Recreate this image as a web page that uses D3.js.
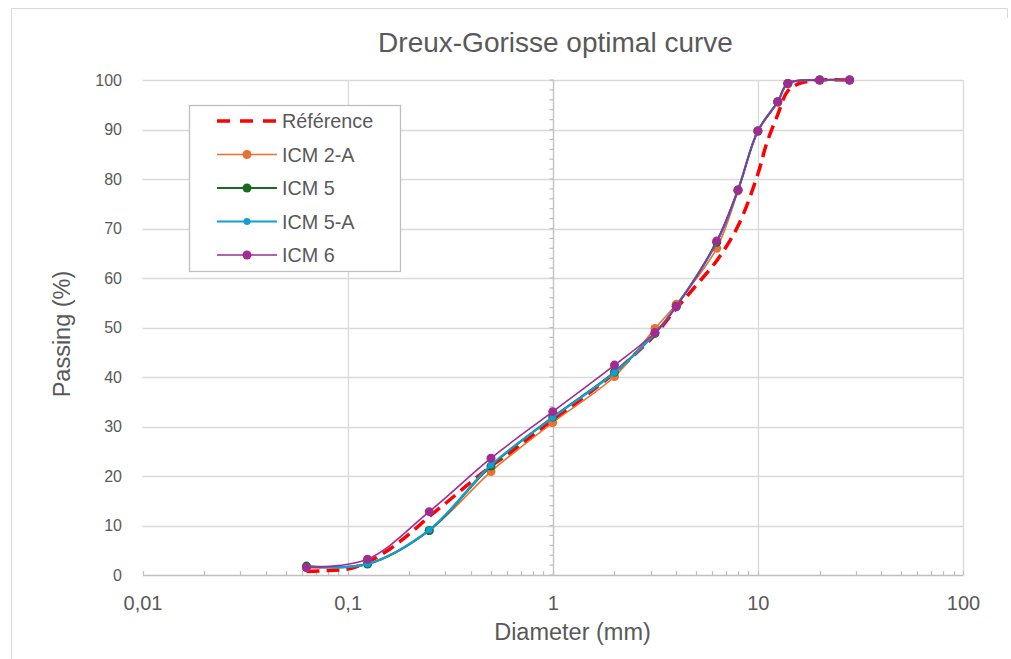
<!DOCTYPE html>
<html><head><meta charset="utf-8">
<script src="https://cdn.jsdelivr.net/npm/d3@7"></script>
<style>html,body{margin:0;padding:0;background:#fff;}svg{display:block;font-family:"Liberation Sans",Arial,sans-serif;}</style>
</head><body>
<script>
// ---- data ----
const title = "Dreux-Gorisse optimal curve";
const xTitle = "Diameter (mm)";
const yTitle = "Passing (%)";
const xTickValues = [0.01, 0.1, 1, 10, 100];
const xTickLabels = ["0,01", "0,1", "1", "10", "100"];
const yTickValues = [0, 10, 20, 30, 40, 50, 60, 70, 80, 90, 100];

const sieves = [0.063, 0.125, 0.25, 0.5, 1, 2, 3.15, 4, 6.3, 8, 10, 12.5, 14, 20, 28];
const icm2A = [1.5, 2.3, 9.0, 20.9, 30.8, 40.1, 49.8, 54.7, 66.0, 77.6, 89.7, 95.5, 99.3, 100, 100];
const icm5  = [1.8, 2.2, 9.0, 22.0, 31.9, 41.0, 48.8, 54.3, 67.2, 77.8, 89.7, 95.6, 99.3, 100, 100];
const icm5A = [1.7, 2.2, 9.1, 22.2, 31.8, 40.9, 48.8, 54.3, 67.3, 77.8, 89.7, 95.6, 99.3, 100, 100];
const icm6  = [1.5, 3.2, 12.8, 23.6, 33.0, 42.4, 49.0, 54.2, 67.5, 77.8, 89.7, 95.6, 99.3, 100, 100];

const refSizes  = [0.063, 0.08, 0.1, 0.125, 0.16, 0.2, 0.25, 0.315, 0.4, 0.5, 0.63, 0.8, 1, 1.25, 1.6, 2, 2.5, 3.15, 4, 5, 6.3, 8, 10, 11, 12.5, 14, 16, 20, 28];
const refValues = [0.7, 0.9, 1.2, 2.6, 5.2, 8.3, 11.8, 15.2, 18.8, 22.0, 24.9, 28.2, 31.3, 34.2, 37.6, 40.8, 44.5, 48.5, 53.8, 58.5, 63.5, 70.5, 81.0, 87.0, 93.0, 97.8, 99.3, 100, 100];

const seriesNames = ["Référence", "ICM 2-A", "ICM 5", "ICM 5-A", "ICM 6"];
const seriesColors = ["#FF0000", "#E97132", "#196B24", "#0F9ED5", "#A02B93"];

// ---- chart ----
const W = 1011, H = 659;
const svg = d3.select("body").append("svg").attr("width", W).attr("height", H);
const txt = "#595959", grid = "#d9d9d9", axisC = "#bfbfbf";

// outer frame
svg.append("path").attr("d", "M11.5,659 V8.5 H1007.5 V18").attr("fill", "none").attr("stroke", grid).attr("stroke-width", 1);

const x = d3.scaleLog().domain([0.01, 100]).range([142.5, 963]);
const y = d3.scaleLinear().domain([0, 100]).range([575, 80]);

// horizontal gridlines
svg.append("g").selectAll("line").data(yTickValues.filter(v => v > 0)).join("line")
  .attr("x1", x(0.01)).attr("x2", x(100))
  .attr("y1", d => Math.round(y(d)) + 0.5).attr("y2", d => Math.round(y(d)) + 0.5)
  .attr("stroke", grid).attr("stroke-width", 1.3);
// vertical gridlines
svg.append("g").selectAll("line").data([0.1, 10, 100]).join("line")
  .attr("x1", d => Math.round(x(d)) + 0.5).attr("x2", d => Math.round(x(d)) + 0.5)
  .attr("y1", y(0)).attr("y2", y(100))
  .attr("stroke", grid).attr("stroke-width", 1.3);

// x axis (bottom) with minor ticks pointing up
const xAxis = d3.axisBottom(x).tickValues(xTickValues).tickFormat((d, i) => xTickLabels[i]).tickSize(0).tickPadding(21);
const gx = svg.append("g").attr("transform", `translate(0,${y(0)})`).call(xAxis);
gx.select(".domain").attr("stroke", axisC).attr("stroke-width", 1.3);
gx.selectAll("text").attr("fill", txt).style("font-size", "20px").attr("font-family", "Liberation Sans, Arial, sans-serif");
const minorX = [];
for (let e = -2; e <= 1; e++) for (let k = 1; k <= 9; k++) minorX.push(k * Math.pow(10, e));
minorX.push(100);
svg.append("g").selectAll("line").data(minorX).join("line")
  .attr("x1", d => Math.round(x(d)) + 0.5).attr("x2", d => Math.round(x(d)) + 0.5)
  .attr("y1", y(0)).attr("y2", y(0) - 4).attr("stroke", axisC).attr("stroke-width", 1.2);

// y axis crossing at x = 1, minor ticks on left
const yx = Math.round(x(1)) + 0.5;
svg.append("line").attr("x1", yx).attr("x2", yx).attr("y1", y(0)).attr("y2", y(100)).attr("stroke", axisC).attr("stroke-width", 1.3);
svg.append("g").selectAll("line").data(d3.range(0, 101, 2)).join("line")
  .attr("x1", yx - 4).attr("x2", yx).attr("y1", d => y(d)).attr("y2", d => y(d))
  .attr("stroke", axisC).attr("stroke-width", 1.2);
// y tick labels at low position
const yAxis = d3.axisLeft(y).tickValues(yTickValues).tickSize(0).tickPadding(0);
const gy = svg.append("g").attr("transform", `translate(122,0)`).call(yAxis);
gy.select(".domain").remove();
gy.selectAll("text").attr("fill", txt).style("font-size", "16px").attr("font-family", "Liberation Sans, Arial, sans-serif");

// titles
svg.append("text").attr("x", 555.5).attr("y", 52).attr("text-anchor", "middle").attr("fill", txt).style("font-size", "28px").text(title);
svg.append("text").attr("x", 572.5).attr("y", 640).attr("text-anchor", "middle").attr("fill", txt).style("font-size", "23.5px").text(xTitle);
svg.append("text").attr("transform", "translate(70,334) rotate(-90)").attr("text-anchor", "middle").attr("fill", txt).style("font-size", "23.5px").text(yTitle);

// series
const line = d3.line().x(d => x(d[0])).y(d => y(d[1])).curve(d3.curveCatmullRom.alpha(0.5));
const refPts = refSizes.map((s, i) => [s, refValues[i]]);
svg.append("path").datum(refPts).attr("d", line).attr("fill", "none")
  .attr("stroke", seriesColors[0]).attr("stroke-width", 3.5).attr("stroke-dasharray", "13,7");

const series = [
  {vals: icm2A, c: seriesColors[1], w: 1.6, r: 4.5},
  {vals: icm5,  c: seriesColors[2], w: 2.0, r: 4.5},
  {vals: icm5A, c: seriesColors[3], w: 2.2, r: 3.4},
  {vals: icm6,  c: seriesColors[4], w: 1.6, r: 4.5}
];
series.forEach(s => {
  const pts = sieves.map((v, i) => [v, s.vals[i]]);
  svg.append("path").datum(pts).attr("d", line).attr("fill", "none").attr("stroke", s.c).attr("stroke-width", s.w);
  svg.append("g").selectAll("circle").data(pts).join("circle")
    .attr("cx", d => x(d[0])).attr("cy", d => y(d[1])).attr("r", s.r).attr("fill", s.c);
});

// legend
const lg = svg.append("g");
lg.append("rect").attr("x", 189.5).attr("y", 105.5).attr("width", 211).attr("height", 166).attr("fill", "#fff").attr("stroke", axisC).attr("stroke-width", 1.3);
const rowY = i => 121 + i * 33.5;
seriesNames.forEach((n, i) => {
  const yy = rowY(i);
  if (i === 0) {
    lg.append("line").attr("x1", 217).attr("x2", 277).attr("y1", yy).attr("y2", yy)
      .attr("stroke", seriesColors[0]).attr("stroke-width", 3.5).attr("stroke-dasharray", "13,10");
  } else {
    const s = series[i - 1];
    lg.append("line").attr("x1", 217).attr("x2", 277).attr("y1", yy).attr("y2", yy).attr("stroke", s.c).attr("stroke-width", s.w);
    lg.append("circle").attr("cx", 247).attr("cy", yy).attr("r", s.r).attr("fill", s.c);
  }
  lg.append("text").attr("x", 282).attr("y", yy + 7).attr("fill", txt).style("font-size", "19.8px").text(n);
});
</script>
</body></html>
